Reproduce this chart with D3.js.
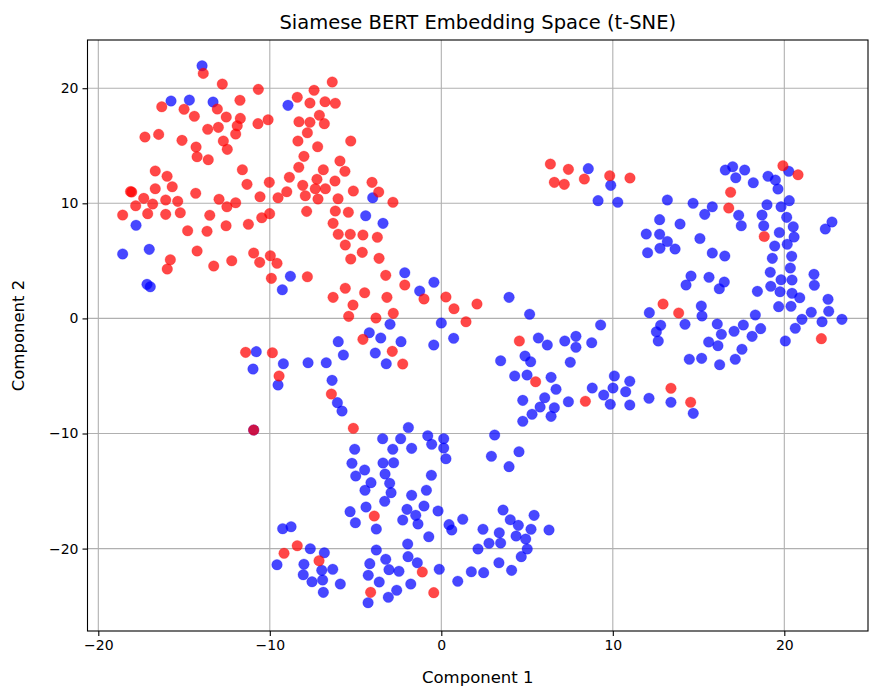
<!DOCTYPE html>
<html>
<head>
<meta charset="utf-8">
<script src="https://cdn.jsdelivr.net/npm/d3@7"></script>
<style>
  body { margin: 0; background: #fff; }
  svg { display: block; font-family: "DejaVu Sans", sans-serif; }
</style>
</head>
<body>
<div id="chart"></div>
<script>
// t-SNE coordinates, [component 1, component 2]
const redPts = [
  [-13.88,21.29],[-12.77,20.36],[-10.67,19.90],[-16.30,18.39],[-15.00,18.17],[-14.40,17.56],[-13.06,18.19],[-12.54,17.50],
  [-11.74,18.95],[-11.72,17.38],[-11.90,16.74],[-11.99,16.02],[-10.69,16.92],[-10.10,17.26],[-13.00,16.60],[-13.62,16.43],
  [-17.28,15.76],[-16.48,15.99],[-15.12,15.47],[-14.30,14.89],[-12.71,15.41],[-12.48,14.69],[-14.24,14.05],[-13.59,13.79],
  [-16.68,12.81],[-15.99,12.35],[-11.60,12.92],[-11.33,11.65],[-10.03,11.82],[-16.68,11.27],[-15.69,11.44],[-18.05,10.98],
  [-18.12,11.02],[-17.35,10.43],[-16.83,9.94],[-16.07,10.29],[-15.37,10.17],[-14.32,10.87],[-12.96,10.35],[-12.50,9.70],
  [-11.99,10.05],[-10.57,10.57],[-9.52,10.49],[-17.82,9.79],[-18.58,8.98],[-17.12,9.10],[-16.07,9.04],[-15.22,9.18],
  [-13.50,8.96],[-10.47,8.75],[-10.01,9.10],[-14.79,7.62],[-13.66,7.57],[-12.55,8.05],[-11.25,8.18],
  [-6.36,20.54],[-7.42,19.82],[-8.40,19.21],[-7.66,18.71],[-6.78,18.83],[-6.18,18.69],[-7.11,17.65],[-8.30,17.09],
  [-7.66,17.04],[-6.82,16.92],[-7.81,16.13],[-5.28,15.41],[-8.36,15.41],[-7.21,14.92],[-8.01,14.08],[-5.91,13.68],
  [-8.31,13.13],[-6.88,12.92],[-5.62,12.78],[-8.86,12.26],[-7.25,12.09],[-6.20,11.94],[-8.08,11.56],[-4.04,11.82],
  [-9.01,11.01],[-7.35,11.27],[-6.76,11.27],[-7.93,10.66],[-7.19,10.37],[-6.02,10.40],[-5.13,11.07],[-3.65,10.98],
  [-2.82,10.09],[-7.85,9.30],[-6.18,9.33],[-5.42,9.22],[-6.31,8.26],[-6.01,7.31],[-5.31,7.31],[-4.57,7.25],[-3.73,7.05],
  [-5.60,6.38],[-4.61,5.74],[-5.28,5.16],[-3.63,5.22],[-7.81,3.62],[-3.24,3.74],[-2.13,2.90],[-5.60,2.62],
  [-4.47,2.23],[-6.31,1.83],[-3.17,1.83],[-5.15,1.16],[-1.01,1.69],[0.27,1.86],[0.74,0.84],[2.08,1.25],
  [-2.80,0.44],[-5.40,0.18],[-3.81,0.03],[1.44,-0.29],[-4.57,-1.82],[-2.86,-2.86],[-2.25,-3.96],[-9.46,-5.00],
  [-6.41,-6.57],[-5.13,-9.55],
  [-14.24,5.86],[-15.80,5.10],[-15.98,4.29],[-13.27,4.55],[-12.22,5.01],[-10.94,5.68],[-10.59,4.87],[-9.97,5.45],
  [-9.58,4.79],[-9.91,3.48],[-11.41,-2.95],[-9.85,-2.98],[-10.94,-9.70],
  [6.36,13.41],[7.41,12.95],[6.59,11.82],[7.17,11.65],[8.34,12.11],[9.82,12.40],[11.00,12.20],
  [19.92,13.27],[20.80,12.48],[16.87,10.96],[16.76,9.59],[18.83,7.12],
  [13.84,0.47],[22.16,-1.76],[13.39,-6.07],[14.54,-7.29],[12.93,1.25],[4.55,-1.96],[5.50,-5.50],[8.40,-7.20],
  [-3.91,-17.17],[-8.40,-19.75],[-9.17,-20.41],[-7.13,-21.05],[-1.11,-22.03],[-4.12,-23.80],[-0.44,-23.83]
];

const bluePts = [
  [-13.95,21.95],[-15.76,18.89],[-14.69,18.97],[-13.31,18.80],[-17.80,8.09],[-8.94,18.51],
  [-4.00,10.49],[-4.41,8.92],[-3.40,8.26],
  [8.57,13.01],[9.88,11.56],[9.14,10.23],[10.29,10.09],[13.18,10.29],[12.73,8.58],[11.95,7.33],[12.73,7.31],[13.18,6.68],
  [16.56,12.89],[16.99,13.18],[17.69,12.89],[17.17,12.22],[18.19,11.79],[19.05,12.35],[19.48,12.02],[19.63,11.24],
  [20.26,12.78],[14.68,10.00],[15.80,9.70],[15.36,9.04],[17.34,8.96],[17.49,8.05],[13.92,8.20],[15.08,6.94],
  [18.99,9.88],[19.81,9.70],[20.29,10.23],[18.70,8.98],[20.14,8.78],[18.80,8.05],[20.52,7.97],[19.71,7.46],
  [20.57,7.07],[22.78,8.38],[22.39,7.77],
  [13.63,6.03],[15.80,5.68],[16.53,5.42],[19.44,6.29],[20.17,6.44],[19.30,5.22],[20.43,5.40],[20.35,4.38],
  [19.18,4.01],[14.56,3.68],[14.27,2.90],[15.61,3.57],[16.50,3.16],[16.21,2.58],[18.43,2.35],[19.81,3.36],
  [20.45,3.34],[19.21,2.79],[19.75,2.32],[20.45,2.18],[20.90,1.80],[21.73,3.83],[21.75,2.88],[22.55,1.66],
  [15.16,1.08],[15.20,0.21],[19.67,1.02],[20.39,1.05],[21.57,0.53],[22.59,0.62],[18.31,0.30],[14.21,-0.51],
  [16.09,-0.49],[16.33,-1.38],[17.07,-1.12],[17.61,-0.57],[18.62,-0.89],[18.12,-1.56],[21.03,-0.08],[22.20,-0.29],
  [23.36,-0.08],[20.64,-0.86],[20.06,-1.96],[15.59,-2.05],[16.13,-2.37],[17.53,-2.68],[14.46,-3.55],[15.18,-3.47],
  [16.23,-4.02],[17.14,-3.55],[14.69,-8.25],
  [12.03,5.71],[12.75,6.09],[3.95,1.83],[5.15,0.36],[12.13,0.50],[12.79,-0.60],[12.54,-1.16],[12.65,-1.96],
  [9.29,-0.57],[5.66,-1.70],[6.18,-2.31],[7.20,-1.96],[7.85,-1.56],[7.85,-2.51],[8.77,-2.11],[3.46,-3.68],
  [4.88,-3.27],[5.21,-3.76],[7.52,-3.81],[4.28,-5.00],[5.00,-4.92],[6.40,-5.12],[6.69,-6.16],[10.09,-5.00],
  [10.99,-5.46],[8.80,-6.05],[10.01,-6.05],[10.75,-6.37],[9.47,-6.66],[9.85,-7.46],[10.99,-7.52],[12.11,-6.94],
  [13.39,-7.29],[4.75,-7.12],[6.03,-6.89],[5.76,-7.70],[6.59,-7.76],[7.41,-7.24],[5.29,-8.33],[6.40,-8.51],
  [4.75,-8.94],[3.11,-10.13],
  [-8.80,3.66],[-9.27,2.49],[-2.13,3.97],[-0.43,3.14],[-1.26,2.38],[-2.99,-0.51],[-4.20,-1.24],[-3.53,-1.70],
  [-2.35,-2.02],[0.00,-0.40],[0.72,-1.73],[-0.44,-2.31],[-6.01,-2.02],[-5.71,-3.18],[-3.85,-3.01],[-3.21,-3.94],
  [-9.21,-3.94],[-7.77,-3.85],[-6.71,-3.85],[-9.52,-5.79],[-6.37,-5.38],[-6.06,-7.32],[-5.79,-8.05],[-1.92,-9.48],
  [-18.58,5.60],[-17.03,6.00],[-17.16,2.96],[-16.97,2.75],[-10.79,-2.89],[-10.98,-4.40],[-10.94,-9.70],
  [-9.58,-21.40],[-9.25,-18.27],[-8.76,-18.10],
  [-3.42,-10.45],[-2.37,-10.45],[-0.79,-10.19],[-0.56,-10.94],[0.14,-10.45],[0.14,-11.26],[0.27,-12.19],[-5.05,-11.37],
  [-2.83,-11.37],[-1.73,-11.29],[-5.21,-12.59],[-3.40,-12.56],[-2.78,-12.54],[-4.47,-13.17],[-4.99,-13.69],[-3.28,-13.52],
  [-4.10,-14.27],[-3.01,-14.33],[-0.58,-13.63],[-4.45,-14.93],[-2.93,-15.14],[-0.87,-14.93],[-3.30,-15.89],[-1.73,-15.37],
  [-5.32,-16.79],[-4.39,-16.39],[-2.00,-16.59],[-1.01,-16.30],[-0.19,-16.73],[-5.01,-17.75],[-3.79,-18.30],[-2.25,-17.52],
  [-1.49,-17.11],[-1.36,-17.86],[-0.73,-18.97],[1.25,-17.45],[0.45,-17.92],[0.61,-18.38],[-7.64,-20.01],[-6.82,-20.36],
  [-3.79,-20.12],[-1.96,-19.60],[-8.01,-21.36],[-6.97,-21.89],[-6.33,-21.80],[-8.05,-22.27],[-7.54,-22.88],[-6.92,-22.73],
  [-5.89,-23.08],[-6.88,-23.80],[-3.24,-20.93],[-1.94,-20.70],[-1.40,-21.23],[-4.17,-21.31],[-3.05,-21.83],[-2.47,-21.97],
  [-4.26,-22.32],[-3.62,-22.90],[-1.78,-23.08],[-2.60,-23.62],[-3.09,-24.23],[-4.27,-24.70],[-0.12,-21.80],[0.96,-22.84],
  [1.75,-22.01],
  [2.92,-11.98],[4.53,-11.58],[3.95,-12.88],[3.60,-16.65],[4.02,-17.49],[5.41,-17.11],[4.49,-17.98],[5.23,-18.32],
  [6.28,-18.38],[2.43,-18.32],[3.38,-18.62],[2.78,-19.54],[3.46,-19.51],[4.36,-18.91],[4.92,-19.17],[5.01,-20.03],
  [4.66,-20.70],[2.14,-20.03],[3.36,-21.23],[4.10,-21.89],[2.47,-22.09]
];

const xTicks = [-20, -10, 0, 10, 20];
const yTicks = [-20, -10, 0, 10, 20];
const xDomain = [-20.63, 24.88];
const yDomain = [-27.16, 24.19];

const chartTitle = "Siamese BERT Embedding Space (t-SNE)";
const xLabel = "Component 1";
const yLabel = "Component 2";

// canvas
const width = 869, height = 686;
const margin = {top: 40, right: 1, bottom: 55, left: 87.5};
const plotW = width - margin.left - margin.right;
const plotH = height - margin.top - margin.bottom;

const svg = d3.select("#chart")
    .append("svg")
    .attr("width", width)
    .attr("height", height);

const g = svg.append("g")
    .attr("transform", `translate(${margin.left},${margin.top})`);

const x = d3.scaleLinear().domain(xDomain).range([0, plotW]);
const y = d3.scaleLinear().domain(yDomain).range([plotH, 0]);

const fmt = d => d < 0 ? "\u2212" + Math.abs(d) : String(d);

// grid
g.append("g")
    .selectAll("line")
    .data(xTicks)
    .join("line")
    .attr("x1", d => x(d)).attr("x2", d => x(d))
    .attr("y1", 0).attr("y2", plotH)
    .attr("stroke", "#b0b0b0")
    .attr("stroke-width", 1.1);

g.append("g")
    .selectAll("line")
    .data(yTicks)
    .join("line")
    .attr("y1", d => y(d)).attr("y2", d => y(d))
    .attr("x1", 0).attr("x2", plotW)
    .attr("stroke", "#b0b0b0")
    .attr("stroke-width", 1.1);

// points: blue first, red drawn on top
const dots = g.append("g");
dots.selectAll(".blue")
    .data(bluePts)
    .join("circle")
    .attr("class", "blue")
    .attr("cx", d => x(d[0]))
    .attr("cy", d => y(d[1]))
    .attr("r", 5.3)
    .attr("fill", "#0000ff")
    .attr("fill-opacity", 0.72)
    .attr("stroke", "#0000ff")
    .attr("stroke-opacity", 0.3)
    .attr("stroke-width", 0.8);

dots.selectAll(".red")
    .data(redPts)
    .join("circle")
    .attr("class", "red")
    .attr("cx", d => x(d[0]))
    .attr("cy", d => y(d[1]))
    .attr("r", 5.3)
    .attr("fill", "#ff0000")
    .attr("fill-opacity", 0.72)
    .attr("stroke", "#ff0000")
    .attr("stroke-opacity", 0.3)
    .attr("stroke-width", 0.8);

// axes
const xAxis = g.append("g")
    .attr("transform", `translate(0,${plotH})`)
    .call(d3.axisBottom(x).tickValues(xTicks).tickFormat(fmt).tickSize(5).tickPadding(4));
const yAxis = g.append("g")
    .call(d3.axisLeft(y).tickValues(yTicks).tickFormat(fmt).tickSize(5).tickPadding(4));

[xAxis, yAxis].forEach(a => {
    a.select(".domain").remove();
    a.selectAll("line").attr("stroke", "#000").attr("stroke-width", 1.1);
    a.selectAll("text")
        .attr("fill", "#000")
        .style("font-size", "14px")
        .style("font-family", "DejaVu Sans, sans-serif");
});

// frame
g.append("rect")
    .attr("width", plotW)
    .attr("height", plotH)
    .attr("fill", "none")
    .attr("stroke", "#000")
    .attr("stroke-width", 1.1);

// labels
svg.append("text")
    .attr("x", margin.left + plotW / 2)
    .attr("y", 29)
    .attr("text-anchor", "middle")
    .style("font-size", "19.5px")
    .text(chartTitle);

svg.append("text")
    .attr("x", margin.left + plotW / 2)
    .attr("y", 683)
    .attr("text-anchor", "middle")
    .style("font-size", "16.5px")
    .text(xLabel);

svg.append("text")
    .attr("transform", `translate(24,${margin.top + plotH / 2}) rotate(-90)`)
    .attr("text-anchor", "middle")
    .style("font-size", "16.5px")
    .text(yLabel);
</script>
</body>
</html>
